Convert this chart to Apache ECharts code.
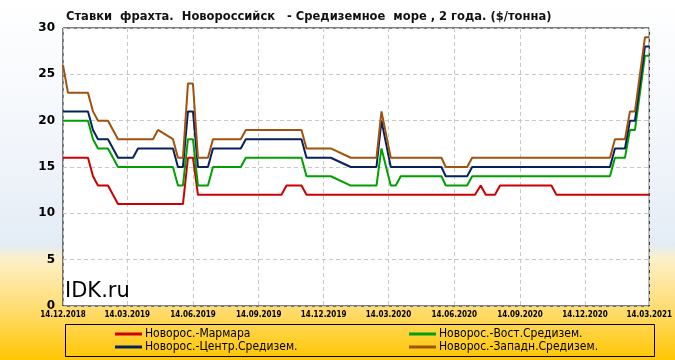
<!DOCTYPE html>
<html><head><meta charset="utf-8">
<script src="https://cdn.jsdelivr.net/npm/echarts@6/dist/echarts.min.js"></script>
<style>html,body{margin:0;padding:0;}#c{width:675px;height:360px;}</style>
</head><body><div id="c"></div>
<script>
const dates = ['2018-12-14','2018-12-21','2019-01-18','2019-01-25','2019-02-01','2019-02-15','2019-03-01','2019-03-22','2019-03-29','2019-04-19',
'2019-04-26','2019-05-17','2019-05-24','2019-05-31','2019-06-07','2019-06-14','2019-06-21','2019-07-05','2019-07-12','2019-08-20',
'2019-08-27','2019-10-16','2019-10-23','2019-11-13','2019-11-20','2019-12-24','2020-01-21','2020-02-26','2020-03-04','2020-03-17',
'2020-03-24','2020-03-31','2020-05-27','2020-06-02','2020-07-02','2020-07-09','2020-07-13','2020-07-21','2020-07-28','2020-08-10',
'2020-08-17','2020-10-28','2020-11-04','2021-01-18','2021-01-25','2021-02-08','2021-02-15','2021-02-22','2021-03-08','2021-03-14'];
const marmara = [16,16,16,14,13,13,11,11,11,11, 11,11,11,11,16,16,12,12,12,12, 12,12,13,13,12,12,12,12,12,12, 12,12,12,12,12,12,12,13,12,12, 13,13,12,12,12,12,12,12,12,12];
const vost    = [20,20,20,18,17,17,15,15,15,15, 15,15,13,13,18,18,13,13,15,15, 16,16,16,16,14,14,13,13,17,13, 13,14,14,13,13,14,14,14,14,14, 14,14,14,14,16,16,19,19,27,27];
const centr   = [21,21,21,19,18,18,16,16,17,17, 17,17,15,15,21,21,15,15,17,17, 18,18,18,18,16,16,15,15,20,15, 15,15,15,14,14,15,15,15,15,15, 15,15,15,15,17,17,20,20,28,28];
const zapad   = [26,23,23,21,20,20,18,18,18,18, 19,18,16,16,24,24,16,16,18,18, 19,19,19,19,17,17,16,16,21,16, 16,16,16,15,15,16,16,16,16,16, 16,16,16,16,18,18,21,21,29,29];
const xLabelDates = ['2018-12-14','2019-03-14','2019-06-14','2019-09-14','2019-12-14','2020-03-14','2020-06-14','2020-09-14','2020-12-14','2021-03-14'];
const names = ['Новорос.-Мармара','Новорос.-Вост.Средизем.','Новорос.-Центр.Средизем.','Новорос.-Западн.Средизем.'];
const colors = ['#cc0000','#00a000','#062060','#a0520f'];
const titleText = 'Ставки  фрахта.  Новороссийск   - Средиземное  море , 2 года. ($/тонна)';

function ts(s){const p=s.split('-');return Date.UTC(+p[0],+p[1]-1,+p[2]);}
function fmt(v){const d=new Date(v);const p=n=>(n<10?'0':'')+n;return p(d.getUTCDate())+'.'+p(d.getUTCMonth()+1)+'.'+d.getUTCFullYear();}
const xTicks = xLabelDates.map(ts);
const seriesVals = [marmara, vost, centr, zapad];

const chart = echarts.init(document.getElementById('c'));
const legendPos = [[115,328],[409,328],[115,341],[409,341]];
chart.setOption({
  animation:false,
  backgroundColor:{type:'linear',x:0,y:0,x2:0,y2:1,colorStops:[
    {offset:0,color:'#ffffff'},{offset:0.45,color:'#f0f4fa'},{offset:0.68,color:'#e3ecf5'},
    {offset:0.72,color:'#fdf0c8'},{offset:0.86,color:'#ffdc70'},{offset:1,color:'#ffc600'}]},
  title:{text:titleText,left:66,top:10,padding:0,textStyle:{fontFamily:'DejaVu Sans Condensed',fontWeight:'bold',fontSize:12.8,color:'#111'}},
  grid:{left:63,right:22,top:28,bottom:54,show:true,backgroundColor:'#ffffff',borderColor:'#000',borderWidth:1},
  xAxis:{type:'value',min:ts('2018-12-14'),max:ts('2021-03-14'),
    axisLine:{show:false},axisTick:{show:false,customValues:xTicks},
    axisLabel:{customValues:xTicks,formatter:fmt,fontFamily:'DejaVu Sans Condensed',fontWeight:'bold',fontSize:8,color:'#000',margin:5,showMinLabel:true,showMaxLabel:true},
    splitLine:{show:true,lineStyle:{color:'#c8c8c8',type:[4,3]}}},
  yAxis:{type:'value',min:0,max:30,interval:5,axisLine:{show:false},axisTick:{show:false},
    axisLabel:{fontFamily:'DejaVu Sans',fontWeight:'bold',fontSize:12,color:'#000',margin:8},
    splitLine:{show:true,lineStyle:{color:'#c8c8c8',type:[4,3]}}},
  legend: names.map((n,i)=>({data:[n],left:legendPos[i][0],top:legendPos[i][1],padding:0,itemWidth:27,itemHeight:3,itemGap:4,icon:'rect',
    textStyle:{fontFamily:'DejaVu Sans Condensed',fontSize:12,color:'#000',padding:[0,0,0,-2]}})),
  graphic:[
    {type:'rect',left:63,top:322,shape:{width:589,height:32},style:{fill:null,stroke:'#000',lineWidth:1},z:-1},
    {type:'text',left:65,top:281,style:{text:'IDK.ru',font:'21px "DejaVu Sans"',fill:'#000'},z:10}
  ],
  series: names.map((n,i)=>({name:n,type:'line',showSymbol:false,symbol:'none',color:colors[i],
    lineStyle:{width:2,color:colors[i]},itemStyle:{color:colors[i]},
    data: dates.map((d,k)=>[ts(d),seriesVals[i][k]])}))
});
</script></body></html>
